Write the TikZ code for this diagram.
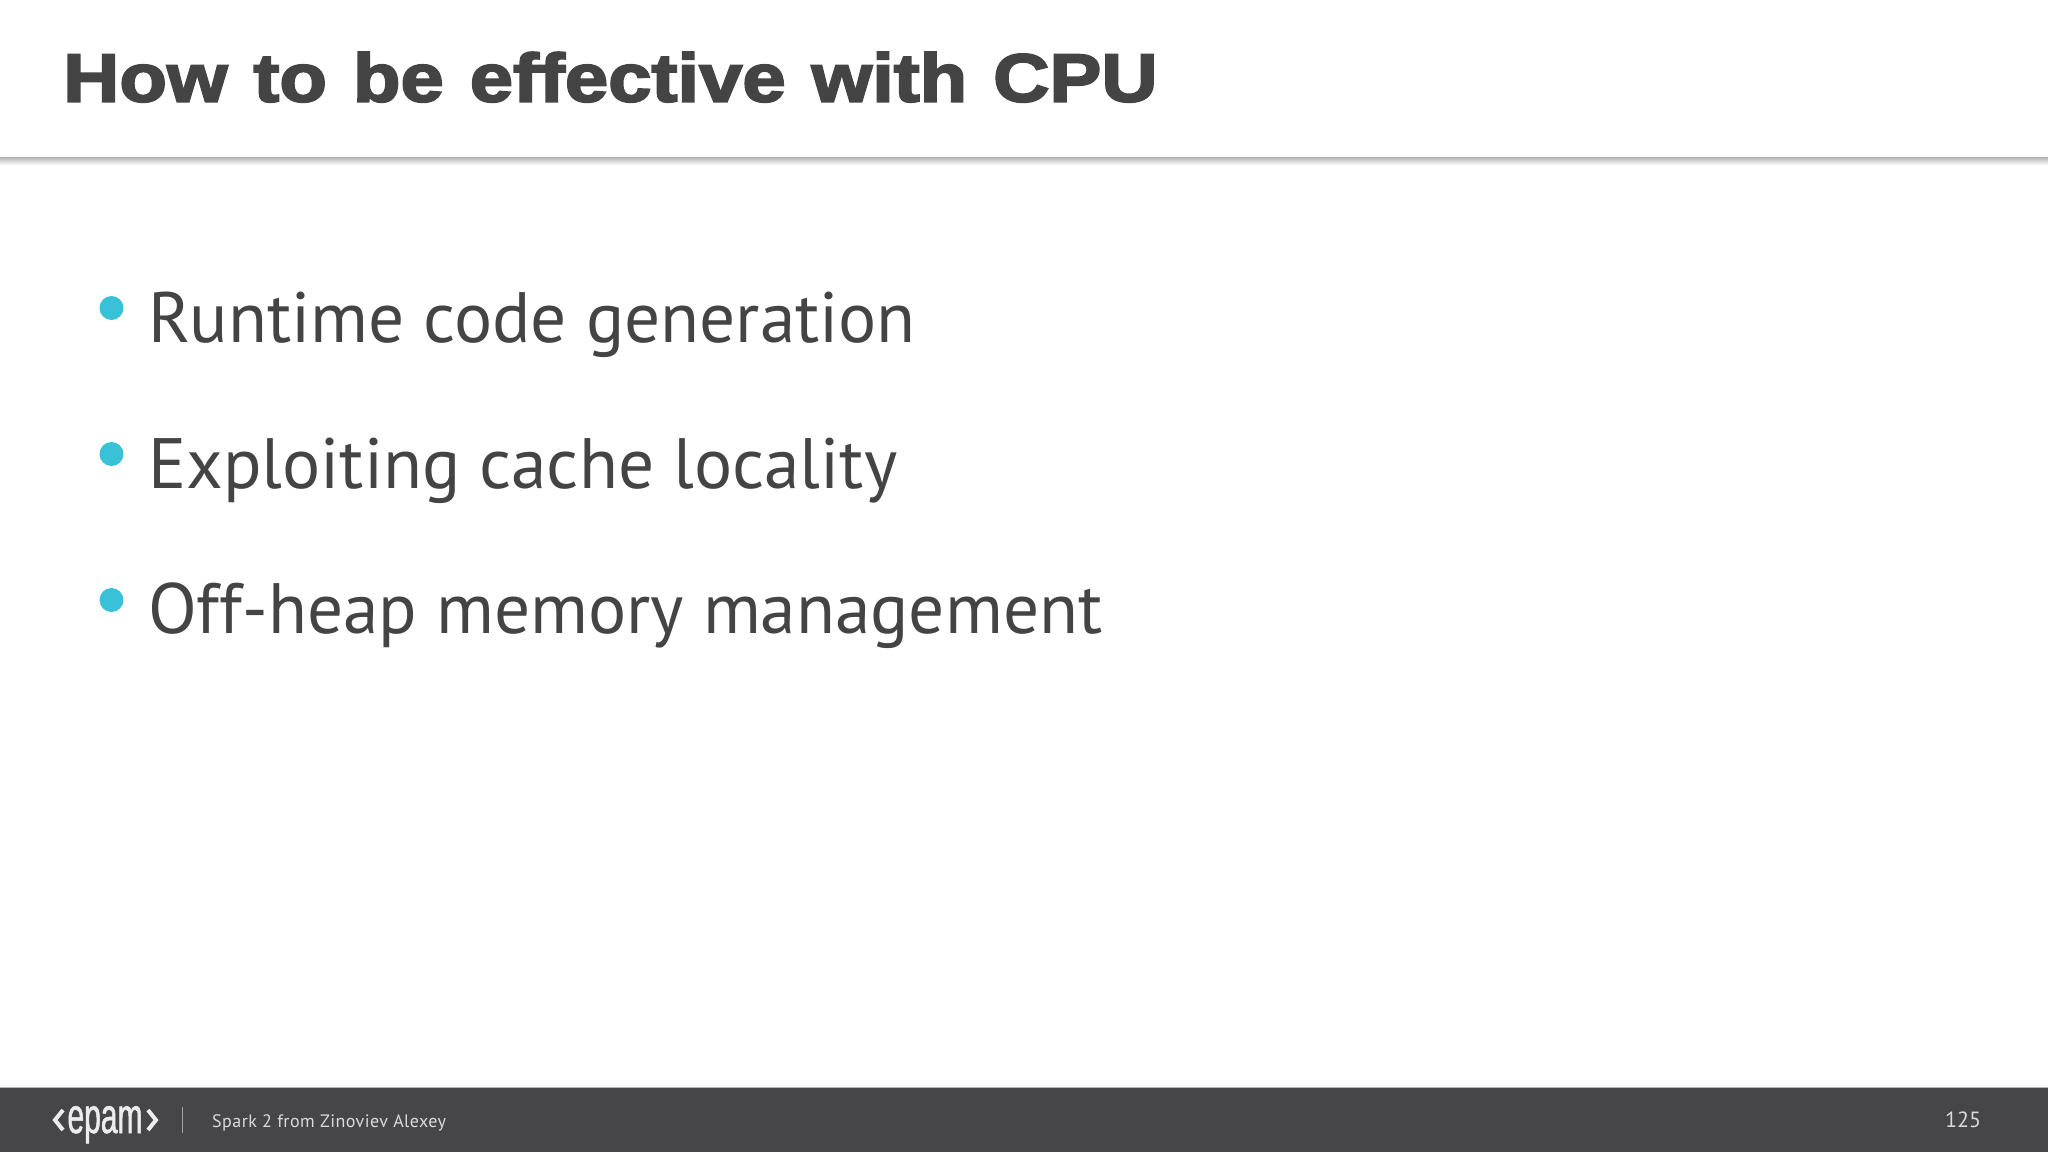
\documentclass[tikz,border=0pt]{standalone}
\usepackage{fontspec}
\setmainfont[Ligatures=NoCommon]{PT Sans}
\newfontfamily\titlefont[FakeBold=3,FakeStretch=1.145,Ligatures=NoCommon,WordSpace=1.2]{Liberation Sans Bold}
\newfontfamily\logofont[FakeStretch=0.6,FakeBold=1]{Liberation Sans}
\newfontfamily\footfont[LetterSpace=2.5]{PT Sans}
\definecolor{inkgrey}{HTML}{444444}
\definecolor{barcolor}{HTML}{464547}
\definecolor{bulletblue}{HTML}{39C2D7}
\tikzset{
    item/.style={anchor=base west, inner sep=0, text=inkgrey, font=\fontsize{71.3}{71.3}\selectfont},
    dot/.style={shape=circle, fill=bulletblue, minimum size=24pt, inner sep=0},
    foot/.style={anchor=base west, inner sep=0, text=white!80!barcolor, font=\footfont\fontsize{18}{18}\selectfont},
}

\begin{document}
\begin{tikzpicture}[x=1pt, y=-1pt]
    \useasboundingbox (0,0) rectangle (2048,1152);
    \fill[white] (0,0) rectangle (2048,1152);
    % header rule
    \shade[top color=black!30, bottom color=white] (0,157) rectangle (2048,165);
    \node[anchor=base west, inner sep=0, text=inkgrey, font=\titlefont\fontsize{68}{68}\selectfont] (title) at (63,101.5) {How to be effective with CPU};

    \node[dot] (B1) at (111.5,308) {};
        \node[item] (T1) at (148,342) {Runtime code generation};
    \node[dot] (B2) at (111.5,454) {};
        \node[item] (T2) at (148,488) {Exploiting cache locality};
    \node[dot] (B3) at (111.5,600) {};
        \node[item] (T3) at (148,633.5) {Off-heap memory management};

    % footer
    \fill[barcolor] (0,1087) rectangle (2048,1152);
    \draw[white!60!barcolor, line width=1pt] (0,1087) -- (2048,1087);
    \node[anchor=base, inner sep=0, text=white!90!barcolor, font=\logofont\fontsize{50}{50}\selectfont] (logo) at (105,1133) {epam};
    \draw[white!90!barcolor, line width=4pt] (63,1110) -- (55,1120) -- (63,1130);
    \draw[white!90!barcolor, line width=4pt] (148,1110) -- (156,1120) -- (148,1130);
    \draw[white!50!barcolor, line width=1pt] (182,1107) -- (182,1133);
    \node[foot] (credit) at (212,1127) {Spark 2 from Zinoviev Alexey};
    \node[foot, anchor=base, font=\fontsize{22}{22}\selectfont] (page) at (1963,1127.5) {125};
\end{tikzpicture}
\end{document}
